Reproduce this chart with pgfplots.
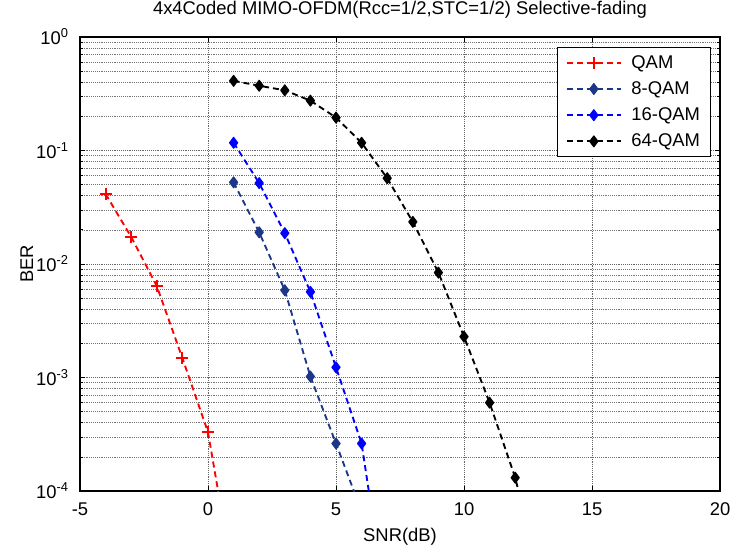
\documentclass[border=0pt]{standalone}
\usepackage{pgfplots}
\pgfplotsset{compat=1.18}
\usepackage{fontspec}
\setmainfont{Liberation Sans}
\definecolor{navyq}{RGB}{28,55,135}
\begin{document}
\begin{tikzpicture}
\begin{axis}[
  at={(0,0)}, anchor=south west,
  scale only axis,
  width=480pt, height=340.5pt,
  ymode=log,
  xmin=-5, xmax=20, ymin=1e-4, ymax=1,
  xtick={-5,0,5,10,15,20},
  ytick={1e-4,1e-3,1e-2,1e-1,1},
  yticklabels={10\textsuperscript{-4},10\textsuperscript{-3},10\textsuperscript{-2},10\textsuperscript{-1},10\textsuperscript{0}},
  /pgf/number format/assume math mode=true,
  tick align=inside,
  major tick length=4pt, minor tick length=2.5pt,
  tick style={black, line width=0.5pt},
  axis line style={black, line width=0.9pt},
  grid=both,
  major grid style={black!60, densely dotted, line width=0.4pt},
  minor grid style={black!55, densely dotted, line width=0.4pt},
  minor x tick num=0,
  every tick label/.style={font=\fontsize{13.8pt}{15pt}\selectfont},
  xticklabel style={anchor=base, yshift=-18.2pt},
  yticklabel style={anchor=east, xshift=-5pt},
  label style={font=\fontsize{13.8pt}{15pt}\selectfont},
  xlabel={SNR(dB)},
  ylabel={BER},
  xlabel style={at={(axis description cs:0.5,0)}, anchor=base, yshift=-37.5pt},
  ylabel style={at={(axis description cs:-0.0833,0.5)}, anchor=center, rotate=0},
  title={4x4Coded MIMO-OFDM(Rcc=1/2,STC=1/2) Selective-fading},
  title style={font=\fontsize{13.8pt}{15pt}\selectfont, at={(axis description cs:0.5,1)}, anchor=base, yshift=10.7pt},
  legend style={at={(1,1)}, anchor=north east, xshift=-6.75pt, yshift=-7.5pt,
    draw=black, line width=0.6pt, font=\fontsize{13.8pt}{15pt}\selectfont,
    inner xsep=6pt, inner ysep=4pt, row sep=4.5pt, cells={anchor=west},
    /tikz/every odd column/.append style={column sep=5pt}},
  legend image code/.code={%
    \draw[#1, mark=none] (0pt,0pt) -- (41pt,0pt);
    \draw[#1] plot[only marks] coordinates {(20.5pt,0pt)};},
  legend cell align=left,
]
\addplot[color=red, line width=1.4pt, dash pattern=on 4.5pt off 3pt, mark=+, mark size=4.5pt, mark options={solid, line width=1.4pt, draw=red}]
  coordinates {(-4,0.0414) (-3,0.0173) (-2,0.0064) (-1,0.00148) (0,3.3e-4) (1,1.6e-5)};
\addlegendentry{QAM}
\addplot[color=navyq, line width=1.4pt, dash pattern=on 4.5pt off 3pt, mark=diamond*, mark size=4.1pt, mark options={solid, line width=0.8pt, line join=round, fill=navyq}]
  coordinates {(1,0.0524) (2,0.019) (3,0.00587) (4,0.00102) (5,2.62e-4) (6,6.6e-5)};
\addlegendentry{8-QAM}
\addplot[color=blue, line width=1.4pt, dash pattern=on 4.5pt off 3pt, mark=diamond*, mark size=4.1pt, mark options={solid, line width=0.8pt, line join=round, fill=blue}]
  coordinates {(1,0.117) (2,0.0516) (3,0.0187) (4,0.00568) (5,0.00123) (6,2.62e-4) (7,8.5e-6)};
\addlegendentry{16-QAM}
\addplot[color=black, line width=1.4pt, dash pattern=on 4.5pt off 3pt, mark=diamond*, mark size=4.1pt, mark options={solid, line width=0.8pt, line join=round, fill=black}]
  coordinates {(1,0.411) (2,0.372) (3,0.339) (4,0.275) (5,0.195) (6,0.117) (7,0.057) (8,0.0235) (9,0.0084) (10,0.00229) (11,6.0e-4) (12,1.31e-4) (13,1.6e-5)};
\addlegendentry{64-QAM}
\end{axis}
\pgfresetboundingbox
\path (-60pt,-42.75pt) rectangle (488.25pt,368.25pt);
\end{tikzpicture}
\end{document}
